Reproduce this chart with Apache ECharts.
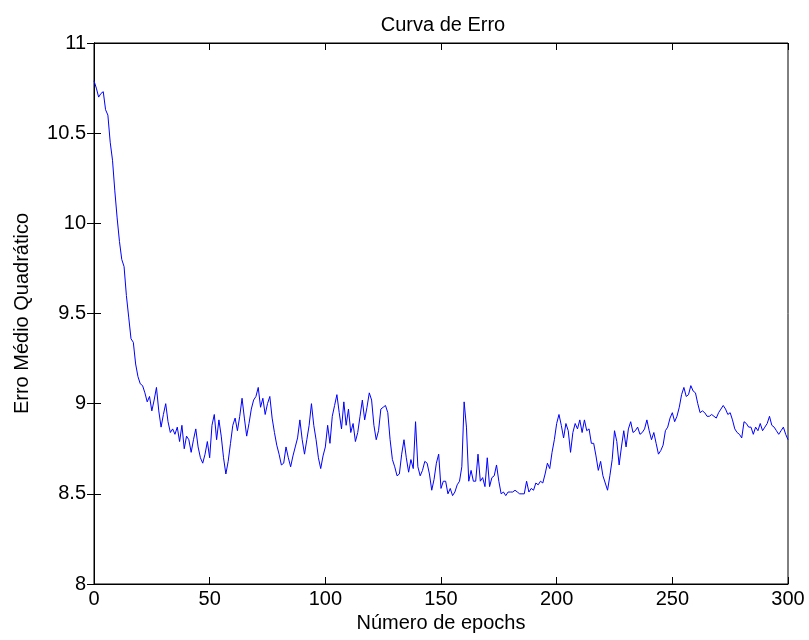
<!DOCTYPE html>
<html>
<head>
<meta charset="utf-8">
<script src="https://cdn.jsdelivr.net/npm/echarts@6/dist/echarts.min.js"></script>
<style>
  html, body { margin: 0; padding: 0; background: #fff; }
  #chart { width: 809px; height: 640px; }
</style>
</head>
<body>
<div id="chart"></div>
<script>
// Mean squared error per training epoch (epochs 0..300)
const epochs = Array.from({ length: 301 }, (_, i) => i);
const erroMedio = [
  10.79, 10.75, 10.70, 10.72, 10.73, 10.63, 10.60, 10.45, 10.35, 10.18,
  10.03, 9.90, 9.80, 9.76, 9.60, 9.48, 9.36, 9.34, 9.22, 9.15,
  9.11, 9.10, 9.06, 9.01, 9.04, 8.96, 9.02, 9.09, 8.96, 8.87,
  8.94, 9.00, 8.90, 8.84, 8.86, 8.83, 8.87, 8.79, 8.88, 8.75,
  8.82, 8.80, 8.73, 8.80, 8.86, 8.76, 8.70, 8.67, 8.72, 8.79,
  8.70, 8.88, 8.94, 8.80, 8.91, 8.82, 8.70, 8.61, 8.68, 8.78,
  8.88, 8.92, 8.85, 8.93, 9.03, 8.92, 8.82, 8.89, 8.97, 9.02,
  9.04, 9.09, 8.98, 9.03, 8.94, 9.00, 9.04, 8.92, 8.84, 8.77,
  8.72, 8.66, 8.67, 8.76, 8.70, 8.65, 8.71, 8.76, 8.81, 8.91,
  8.80, 8.72, 8.80, 8.88, 9.00, 8.88, 8.80, 8.70, 8.64, 8.71,
  8.76, 8.88, 8.78, 8.93, 8.99, 9.05, 8.95, 8.86, 9.01, 8.88,
  8.97, 8.84, 8.89, 8.79, 8.84, 8.93, 9.02, 8.91, 8.98, 9.06,
  9.02, 8.88, 8.80, 8.85, 8.97, 8.98, 8.99, 8.95, 8.80, 8.69,
  8.65, 8.60, 8.61, 8.72, 8.80, 8.70, 8.62, 8.69, 8.64, 8.90,
  8.65, 8.60, 8.63, 8.68, 8.67, 8.61, 8.52, 8.58, 8.67, 8.72,
  8.53, 8.57, 8.57, 8.50, 8.53, 8.49, 8.51, 8.55, 8.57, 8.65,
  9.01, 8.87, 8.57, 8.63, 8.57, 8.57, 8.72, 8.57, 8.59, 8.54,
  8.70, 8.54, 8.59, 8.60, 8.66, 8.57, 8.50, 8.51, 8.49, 8.51,
  8.51, 8.51, 8.52, 8.51, 8.50, 8.50, 8.50, 8.57, 8.51, 8.53,
  8.52, 8.56, 8.55, 8.57, 8.56, 8.61, 8.67, 8.64, 8.73, 8.80,
  8.89, 8.94, 8.88, 8.81, 8.89, 8.85, 8.73, 8.84, 8.89, 8.86,
  8.91, 8.84, 8.91, 8.85, 8.86, 8.78, 8.78, 8.71, 8.63, 8.68,
  8.60, 8.56, 8.52, 8.60, 8.69, 8.85, 8.79, 8.66, 8.76, 8.85,
  8.76, 8.86, 8.90, 8.84, 8.85, 8.87, 8.83, 8.84, 8.86, 8.91,
  8.85, 8.80, 8.84, 8.78, 8.72, 8.74, 8.77, 8.85, 8.87, 8.92,
  8.95, 8.90, 8.93, 8.98, 9.05, 9.09, 9.04, 9.05, 9.10, 9.07,
  9.06, 9.00, 8.95, 8.96, 8.95, 8.93, 8.93, 8.94, 8.93, 8.92,
  8.95, 8.97, 8.99, 8.97, 8.94, 8.95, 8.91, 8.86, 8.84, 8.83,
  8.81, 8.90, 8.89, 8.87, 8.87, 8.83, 8.87, 8.85, 8.89, 8.85,
  8.87, 8.89, 8.93, 8.88, 8.87, 8.85, 8.83, 8.85, 8.87, 8.83,
  8.80
];

const titleText = 'Curva de Erro';
const xName = 'Número de epochs';
const yName = 'Erro Médio Quadrático';

const font = 'Liberation Sans, Arial, sans-serif';
const fontSize = 20;
const black = '#000';

const chart = echarts.init(document.getElementById('chart'), null, { renderer: 'canvas' });

const baseTick = { show: true, inside: true, length: 7, lineStyle: { color: black, width: 1 } };
const line = { show: true, lineStyle: { color: black, width: 1 } };

chart.setOption({
  animation: false,
  backgroundColor: '#fff',
  title: {
    text: titleText,
    left: 438, top: 10, textAlign: 'center',
    textStyle: { fontFamily: font, fontSize: fontSize, fontWeight: 'normal', color: black }
  },
  grid: { left: 94, right: 21, top: 43, bottom: 56, show: true, borderColor: black, borderWidth: 1, containLabel: false },
  xAxis: [
    {
      type: 'value', min: 0, max: 300, interval: 50, position: 'bottom',
      name: xName, nameLocation: 'middle', nameGap: 28,
      nameTextStyle: { fontFamily: font, fontSize: fontSize, color: black },
      axisLine: line, axisTick: baseTick, splitLine: { show: false },
      axisLabel: { fontFamily: font, fontSize: fontSize, color: black, margin: 5 }
    },
    {
      type: 'value', min: 0, max: 300, interval: 50, position: 'top',
      axisLine: line, axisTick: baseTick, splitLine: { show: false },
      axisLabel: { show: false }
    }
  ],
  yAxis: [
    {
      type: 'value', min: 8, max: 11, interval: 0.5, position: 'left',
      name: yName, nameLocation: 'middle', nameGap: 62, nameRotate: 90,
      nameTextStyle: { fontFamily: font, fontSize: fontSize, color: black },
      axisLine: line, axisTick: baseTick, splitLine: { show: false },
      axisLabel: { fontFamily: font, fontSize: fontSize, color: black, margin: 8 }
    },
    {
      type: 'value', min: 8, max: 11, interval: 0.5, position: 'right',
      axisLine: line, axisTick: baseTick, splitLine: { show: false },
      axisLabel: { show: false }
    }
  ],
  series: [
    {
      type: 'line',
      data: epochs.map((e, i) => [e, erroMedio[i]]),
      xAxisIndex: 0, yAxisIndex: 0,
      showSymbol: false, symbol: 'none',
      lineStyle: { color: '#0000ff', width: 1 },
      silent: true
    }
  ]
});
</script>
</body>
</html>
